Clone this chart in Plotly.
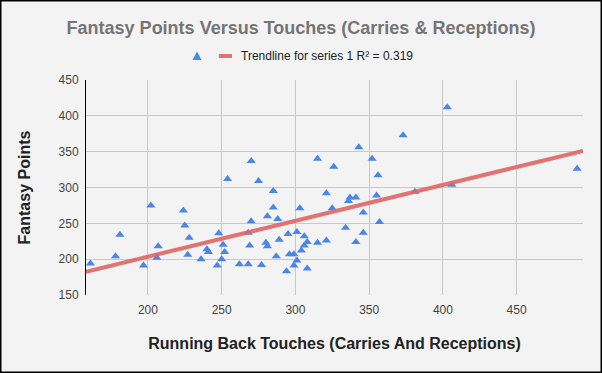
import numpy as np
import plotly.graph_objects as go

touches = [161, 178, 181, 197, 202, 206, 207, 224, 225, 228, 227, 236, 240, 241, 248, 247,
           251, 252, 250, 254, 270, 275, 270, 268, 269, 262, 268, 277, 285, 285, 281, 288,
           280, 281, 289, 287, 295, 301, 303, 306, 308, 306, 304, 296, 299, 301, 299, 308,
           294, 315, 326, 343, 373, 352, 356, 321, 337, 336, 341, 355, 325, 346, 357, 334,
           346, 341, 321, 315, 381, 403, 406, 491]
points = [194, 204, 234, 191, 275, 202, 218, 268, 247, 230, 206, 200, 214, 210, 236, 191,
          220, 210, 200, 312, 337, 309, 253, 237, 219, 193, 193, 192, 295, 272, 260, 256,
          223, 218, 227, 204, 235, 238, 271, 232, 224, 219, 212, 207, 207, 198, 191, 187,
          183, 340, 329, 356, 373, 340, 317, 292, 286, 281, 286, 289, 271, 265, 252, 244,
          237, 224, 226, 223, 294, 412, 304, 326]
x_ticks = [200, 250, 300, 350, 400, 450]
y_ticks = [150, 200, 250, 300, 350, 400, 450]
x_range = [158, 495]
y_range = [150, 450]
trend_label = "Trendline for series 1 R² = 0.319"

slope, intercept = np.polyfit(touches, points, 1)
trend_x = np.array(x_range, dtype=float)
trend_y = slope * trend_x + intercept

W, H = 602, 373
ml, mr, mt, mb = 86, 19, 80, 78
pw, ph = W - ml - mr, H - mt - mb


def px(x):
    return (x - ml) / pw


def py(y):
    return (H - mb - y) / ph


BLUE = "#4a86e8"
RED = "#e06666"

fig = go.Figure()
fig.add_trace(go.Scatter(
    x=touches, y=points, mode="markers", name="",
    marker=dict(symbol="triangle-up", size=8, color=BLUE),
))
fig.add_trace(go.Scatter(
    x=trend_x, y=trend_y, mode="lines", name=trend_label,
    line=dict(color=RED, width=4), opacity=0.9,
))

# legend drawn manually (compact, like the original)
leg_y = 56
tri = (f"M {px(192.5)} {py(leg_y + 4)} L {px(201.5)} {py(leg_y + 4)} "
       f"L {px(197)} {py(leg_y - 4.5)} Z")

font_family = "Liberation Sans, Arial, sans-serif"
fig.update_layout(
    width=W, height=H,
    margin=dict(l=ml, r=mr, t=mt, b=mb),
    paper_bgcolor="#f3f3f3", plot_bgcolor="#f3f3f3",
    font=dict(family=font_family, size=12, color="#444444"),
    title=dict(text="<b>Fantasy Points Versus Touches (Carries & Receptions)</b>",
               x=0.5, xanchor="center", y=1 - 28 / H, yanchor="middle",
               font=dict(size=18, color="#757575")),
    showlegend=False,
    xaxis=dict(range=x_range, tickvals=x_ticks, showgrid=True, gridcolor="#c8c8c8",
               zeroline=False, showline=False, ticks="", ticklabelstandoff=6,
               title=dict(text="<b>Running Back Touches (Carries And Receptions)</b>",
                          font=dict(size=16, color="#222222"), standoff=21)),
    yaxis=dict(range=y_range, tickvals=y_ticks, showgrid=True, gridcolor="#c8c8c8",
               zeroline=False, showline=True, linecolor="#000000", linewidth=1,
               ticks="", ticklabelstandoff=4,
               title=dict(text="<b>Fantasy Points</b>",
                          font=dict(size=16, color="#222222"), standoff=23)),
    shapes=[
        dict(type="path", xref="paper", yref="paper", path=tri,
             fillcolor=BLUE, line=dict(width=0)),
        dict(type="line", xref="paper", yref="paper",
             x0=px(219), x1=px(232), y0=py(leg_y), y1=py(leg_y),
             line=dict(color=RED, width=4), opacity=0.9),
        dict(type="rect", xref="paper", yref="paper",
             x0=px(0.75), x1=px(W - 0.75), y0=py(H - 0.75), y1=py(0.75),
             line=dict(color="#000000", width=1.5), layer="above"),
    ],
    annotations=[
        dict(text=trend_label, xref="paper", yref="paper",
             x=px(239), y=py(leg_y), xanchor="left", yanchor="middle",
             showarrow=False, font=dict(size=12, color="#222222")),
    ],
)

fig.write_html("out.html",
               config={"displayModeBar": False},
               post_script="document.body.style.margin='0';document.body.style.overflow='hidden';")
